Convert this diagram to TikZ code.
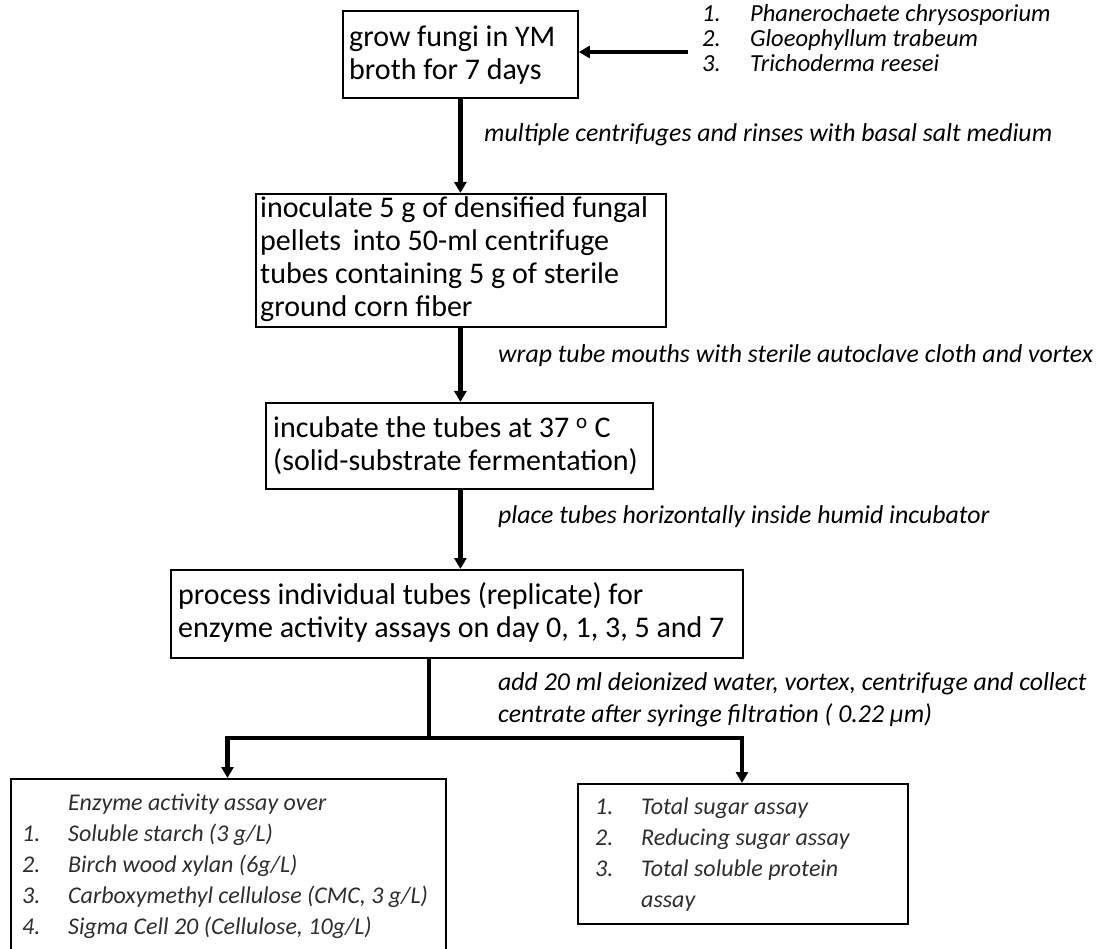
\documentclass[tikz,border=0pt]{standalone}
\usepackage{fontspec}
\setmainfont{Carlito}
\usetikzlibrary{arrows.meta}
\begin{document}
\begin{tikzpicture}[x=1pt,y=-1pt,
  box/.style={draw=black,line width=1.8pt,rectangle,anchor=north west,inner sep=0pt},
  steptext/.style={anchor=west,align=left,inner sep=0pt,font=\fontsize{30}{33}\selectfont},
  lbl/.style={anchor=west,align=left,inner sep=0pt,font=\fontsize{25.8}{32}\selectfont\itshape},
  listtext/.style={inner sep=0pt,anchor=north west,text=black!82,font=\fontsize{24}{31}\selectfont\itshape},
  flow/.style={line width=4.5pt,-{Triangle[length=11pt,width=12pt]}},
  plain/.style={line width=4.5pt}]
\useasboundingbox (0,0) rectangle (1101,949);
\clip (0,0) rectangle (1101,949);
% boxes
\node[box,minimum width=235pt,minimum height=87pt] (b1) at (342,10) {};
\node[steptext] (t1) at (349,55) {grow fungi in YM\\broth for 7 days};
\node[box,minimum width=410pt,minimum height=133pt] (b2) at (255,193) {};
\node[steptext] (t2) at (260,259) {inoculate 5 g of densified fungal\\pellets\, into 50-ml centrifuge\\tubes containing 5 g of sterile\\ground corn fiber};
\node[box,minimum width=387pt,minimum height=86pt] (b3) at (265,402) {};
\node[steptext] (t3) at (273,446) {incubate the tubes at 37 \textsuperscript{o} C\\(solid-substrate fermentation)};
\node[box,minimum width=572pt,minimum height=88pt] (b4) at (170,569) {};
\node[steptext] (t4) at (178,612) {process individual tubes (replicate) for\\enzyme activity assays on day 0, 1, 3, 5 and 7};
\node[box,minimum width=435pt,minimum height=178pt] (b5) at (10,778) {};
\node[listtext] (t5) at (22,789) {\begin{tabular}{@{}p{46pt}@{}l@{}}
 & Enzyme activity assay over\\
1. & Soluble starch (3 g/L)\\
2. & Birch wood xylan (6g/L)\\
3. & Carboxymethyl cellulose (CMC, 3 g/L)\\
4. & Sigma Cell 20 (Cellulose, 10g/L)
\end{tabular}};
\node[box,minimum width=330pt,minimum height=140pt] (b6) at (577,783) {};
\node[listtext] (t6) at (595,793) {\begin{tabular}{@{}p{46pt}@{}l@{}}
1. & Total sugar assay\\
2. & Reducing sugar assay\\
3. & Total soluble protein\\
 & assay
\end{tabular}};
% organism list
\node[inner sep=0pt,anchor=north west,font=\fontsize{24.5}{25}\selectfont\itshape] (org) at (702,4) {\begin{tabular}{@{}p{48pt}@{}l@{}}
1. & Phanerochaete chrysosporium\\
2. & Gloeophyllum trabeum\\
3. & Trichoderma reesei
\end{tabular}};
% labels
\node[lbl] (l1) at (484,135) {multiple centrifuges and rinses with basal salt medium};
\node[lbl] (l2) at (498,356) {wrap tube mouths with sterile autoclave cloth and vortex};
\node[lbl] (l3) at (498,517) {place tubes horizontally inside humid incubator};
\node[lbl] (l4) at (498,700) {add 20 ml deionized water, vortex, centrifuge and collect\\centrate after syringe filtration ( 0.22 μm)};
% connectors
\coordinate (src) at (688,52);
\draw[flow] (src) -- (b1.east |- src);
\draw[flow] (b1.south) -- (b1.south |- b2.north);
\draw[flow] (b1.south |- b2.south) -- (b1.south |- b3.north);
\draw[flow] (b1.south |- b3.south) -- (b1.south |- b4.north);
\coordinate (j) at (429,738);
\coordinate (jl) at (227.5,738);
\coordinate (jr) at (742,738);
\draw[plain] (j |- b4.south) -- (j);
\draw[flow,line join=miter] (j) -- (jl) -- (jl |- b5.north);
\draw[flow,line join=miter] (j) -- (jr) -- (jr |- b6.north);
\end{tikzpicture}
\end{document}
